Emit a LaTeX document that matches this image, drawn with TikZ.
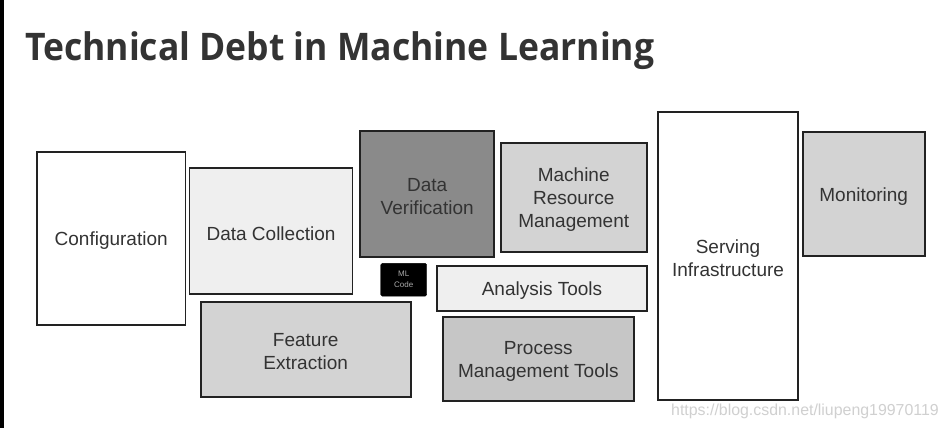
\documentclass[tikz,border=0pt]{standalone}
\usepackage{fontspec}
\setmainfont{Liberation Sans}
\newfontfamily\titlefont{Open Sans}
\definecolor{txt}{HTML}{333333}
\definecolor{edge}{HTML}{222222}
\definecolor{lightfill}{HTML}{EFEFEF}
\definecolor{midfill}{HTML}{D3D3D3}
\definecolor{procfill}{HTML}{C6C6C6}
\definecolor{darkfill}{HTML}{8A8A8A}
\definecolor{mltext}{HTML}{AAAAAA}
\definecolor{wmark}{HTML}{D0D0D0}
\begin{document}
\begin{tikzpicture}[x=1pt,y=-1pt,
  box/.style={draw=edge, line width=1.8pt, inner sep=0pt},
  lbl/.style={align=center, text=txt, inner sep=0pt, yshift=-2.5pt,
    font=\fontsize{19}{23}\selectfont},
  mlbox/.style={draw=black, fill=black, rounded corners=1.5pt, align=center,
    text=mltext, inner sep=0pt, font=\fontsize{8}{11}\selectfont},
]
\fill[white] (0,0) rectangle (949,428);
\useasboundingbox (0,0) rectangle (949,428);
\fill[black] (0,0) rectangle (4,428);

\node[anchor=base west, text=txt, inner sep=0pt,
  font=\titlefont\bfseries\fontsize{38}{44}\selectfont] (title) at (25,60)
  {\scalebox{0.934}[1]{Technical Debt in Machine Learning}};

\node[box, fill=white, minimum width=148.5pt, minimum height=173.3pt,
  label={[lbl]center:Configuration}] (conf) at (111.2,238.3) {};
\node[box, fill=lightfill, minimum width=163pt, minimum height=125.7pt,
  label={[lbl]center:Data Collection}] (dcol) at (271,231.2) {};
\node[box, fill=darkfill, minimum width=133.7pt, minimum height=125.7pt,
  label={[lbl]center:{Data\\Verification}}] (dver) at (427.2,193.8) {};
\node[box, fill=midfill, minimum width=146pt, minimum height=108.4pt,
  label={[lbl]center:{Machine\\Resource\\Management}}] (mrm) at (573.7,197.5) {};
\node[box, fill=white, minimum width=140.6pt, minimum height=288.3pt,
  label={[lbl]center:{Serving\\Infrastructure}}] (serv) at (728,255.8) {};
\node[box, fill=midfill, minimum width=122pt, minimum height=124.3pt,
  label={[lbl]center:Monitoring}] (mon) at (863.7,193.8) {};
\node[mlbox, minimum width=46pt, minimum height=32.7pt] (ml) at (403.7,279.7) {ML\\Code};
\node[box, fill=lightfill, minimum width=210.6pt, minimum height=45pt,
  label={[lbl]center:Analysis Tools}] (ana) at (542,288.2) {};
\node[box, fill=midfill, minimum width=210pt, minimum height=94.4pt,
  label={[lbl]center:{Feature\\Extraction}}] (feat) at (305.7,349.5) {};
\node[box, fill=procfill, minimum width=191.3pt, minimum height=84pt,
  label={[lbl]center:{Process\\Management Tools}}] (proc) at (538.3,358.7) {};

\node[anchor=base west, text=wmark, inner sep=0pt, font=\fontsize{15.9}{18}\selectfont] (wm) at (671,415)
  {https://blog.csdn.net/liupeng19970119};
\end{tikzpicture}
\end{document}
